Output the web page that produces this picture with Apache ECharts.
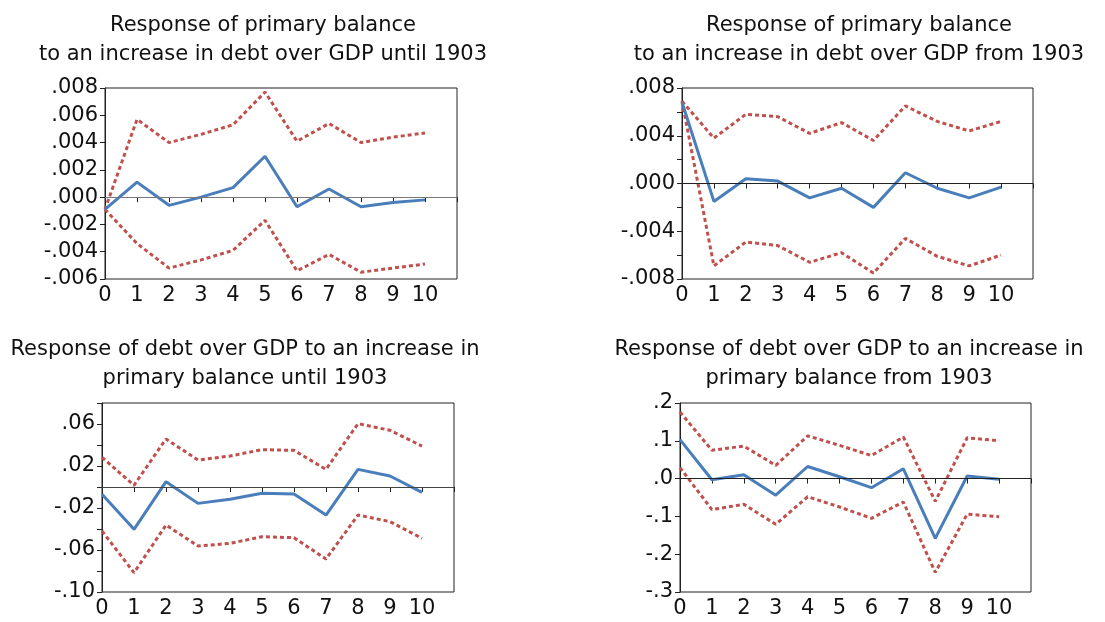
<!DOCTYPE html>
<html>
<head>
<meta charset="utf-8">
<title>Impulse responses</title>
<script src="https://cdn.jsdelivr.net/npm/echarts@6/dist/echarts.min.js"></script>
<style>
  html, body { margin: 0; padding: 0; background: #fff; }
  #main { width: 1105px; height: 622px; }
</style>
</head>
<body>
<div id="main"></div>
<script>
// horizon (periods)
var steps = [0, 1, 2, 3, 4, 5, 6, 7, 8, 9, 10];

// primary balance -> debt over GDP shock, until 1903
var pbUntilMid = [-0.0009, 0.0011, -0.0006, 0.0000, 0.0007, 0.0030, -0.0007, 0.0006, -0.0007, -0.0004, -0.0002];
var pbUntilHi  = [-0.0009, 0.0057, 0.0040, 0.0046, 0.0053, 0.0077, 0.0041, 0.0054, 0.0040, 0.0044, 0.0047];
var pbUntilLo  = [-0.0009, -0.0034, -0.0052, -0.0046, -0.0039, -0.0017, -0.0054, -0.0042, -0.0055, -0.0052, -0.0049];

// primary balance -> debt over GDP shock, from 1903
var pbFromMid = [0.0068, -0.0015, 0.0004, 0.0002, -0.0012, -0.0004, -0.0020, 0.0009, -0.0004, -0.0012, -0.0003];
var pbFromHi  = [0.0069, 0.0038, 0.0058, 0.0056, 0.0042, 0.0051, 0.0036, 0.0065, 0.0052, 0.0044, 0.0052];
var pbFromLo  = [0.0069, -0.0069, -0.0049, -0.0052, -0.0066, -0.0058, -0.0075, -0.0046, -0.0061, -0.0069, -0.0060];

// debt over GDP -> primary balance shock, until 1903
var dUntilMid = [-0.0070, -0.0403, 0.0051, -0.0156, -0.0117, -0.0060, -0.0067, -0.0267, 0.0168, 0.0105, -0.0051];
var dUntilHi  = [0.0283, 0.0016, 0.0457, 0.0257, 0.0295, 0.0356, 0.0349, 0.0168, 0.0603, 0.0540, 0.0390];
var dUntilLo  = [-0.0419, -0.0816, -0.0362, -0.0562, -0.0537, -0.0473, -0.0483, -0.0686, -0.0267, -0.0330, -0.0489];

// debt over GDP -> primary balance shock, from 1903
var dFromMid = [0.103, -0.003, 0.010, -0.044, 0.032, 0.005, -0.024, 0.026, -0.158, 0.007, -0.002];
var dFromHi  = [0.176, 0.075, 0.086, 0.035, 0.113, 0.088, 0.061, 0.110, -0.060, 0.108, 0.100];
var dFromLo  = [0.029, -0.082, -0.068, -0.121, -0.048, -0.075, -0.105, -0.062, -0.248, -0.094, -0.101];

var FONT = 'DejaVu Sans';

function pairs(ys) {
    return steps.map(function (x, i) { return [x, ys[i]]; });
}

// ".008" style labels, every `every`-th tick
function fmt(min, step, every, digits) {
    return function (v) {
        var k = Math.round((v - min) / step);
        if (k % every !== 0) return '';
        var s = Math.abs(v).toFixed(digits).replace(/^0/, '');
        return (v < -1e-9 ? '-' : '') + s;
    };
}

var panels = [
    { title: 'Response of primary balance\nto an increase in debt over GDP until 1903', tx: 263, ty: 11,
      grid: { left: 105, top: 88, width: 352, height: 191 },
      min: -0.006, max: 0.008, step: 0.002, every: 1, digits: 3, zero: '#777',
      mid: pbUntilMid, hi: pbUntilHi, lo: pbUntilLo },
    { title: 'Response of primary balance\nto an increase in debt over GDP from 1903', tx: 859, ty: 11,
      grid: { left: 682, top: 88, width: 351, height: 191 },
      min: -0.008, max: 0.008, step: 0.002, every: 2, digits: 3, zero: '#222',
      mid: pbFromMid, hi: pbFromHi, lo: pbFromLo },
    { title: 'Response of debt over GDP to an increase in\nprimary balance until 1903', tx: 245, ty: 335,
      grid: { left: 102, top: 403, width: 352, height: 189 },
      min: -0.10, max: 0.08, step: 0.02, every: 2, digits: 2, zero: '#444',
      mid: dUntilMid, hi: dUntilHi, lo: dUntilLo },
    { title: 'Response of debt over GDP to an increase in\nprimary balance from 1903', tx: 849, ty: 335,
      grid: { left: 680, top: 403, width: 351, height: 189 },
      min: -0.3, max: 0.2, step: 0.1, every: 1, digits: 1, zero: '#222',
      mid: dFromMid, hi: dFromHi, lo: dFromLo }
];

var titles = [], grids = [], xAxes = [], yAxes = [], series = [];

panels.forEach(function (p, i) {
    titles.push({
        text: p.title,
        left: p.tx,
        top: p.ty,
        textAlign: 'center',
        padding: 0,
        textStyle: { fontFamily: FONT, fontSize: 21, fontWeight: 'normal', color: '#111', lineHeight: 29 }
    });
    grids.push({
        left: p.grid.left, top: p.grid.top, width: p.grid.width, height: p.grid.height,
        show: true, borderColor: '#222', borderWidth: 1, backgroundColor: '#fff'
    });
    xAxes.push({
        type: 'value', gridIndex: i, min: 0, max: 11, interval: 1,
        axisLine: { lineStyle: { color: '#222' } },
        axisTick: { inside: false, length: 5, lineStyle: { color: '#222' } },
        splitLine: { show: false },
        axisLabel: {
            margin: 6, fontFamily: FONT, fontSize: 21, color: '#111',
            formatter: function (v) { return v > 10 ? '' : String(v); }
        }
    });
    yAxes.push({
        type: 'value', gridIndex: i, min: p.min, max: p.max, interval: p.step,
        axisLine: { show: true, lineStyle: { color: '#222' } },
        axisTick: { show: true, inside: false, length: 5, lineStyle: { color: '#222' } },
        splitLine: { show: false },
        axisLabel: {
            margin: 7, fontFamily: FONT, fontSize: 21, color: '#111',
            formatter: fmt(p.min, p.step, p.every, p.digits)
        }
    });
    series.push({
        type: 'line', xAxisIndex: i, yAxisIndex: i, data: pairs(p.hi),
        symbol: 'none', lineStyle: { color: '#c0504d', width: 3, type: [4, 3] }, z: 3
    });
    series.push({
        type: 'line', xAxisIndex: i, yAxisIndex: i, data: pairs(p.lo),
        symbol: 'none', lineStyle: { color: '#c0504d', width: 3, type: [4, 3] }, z: 3
    });
    series.push({
        type: 'line', xAxisIndex: i, yAxisIndex: i, data: pairs(p.mid),
        symbol: 'none', lineStyle: { color: '#4a7ebb', width: 3 }, z: 4,
        markLine: {
            silent: true, symbol: 'none', label: { show: false },
            lineStyle: { color: p.zero, width: 1, type: 'solid' },
            data: [{ yAxis: 0 }]
        }
    });
});

var chart = echarts.init(document.getElementById('main'));
chart.setOption({
    animation: false,
    backgroundColor: '#fff',
    title: titles,
    grid: grids,
    xAxis: xAxes,
    yAxis: yAxes,
    series: series
});
</script>
</body>
</html>
